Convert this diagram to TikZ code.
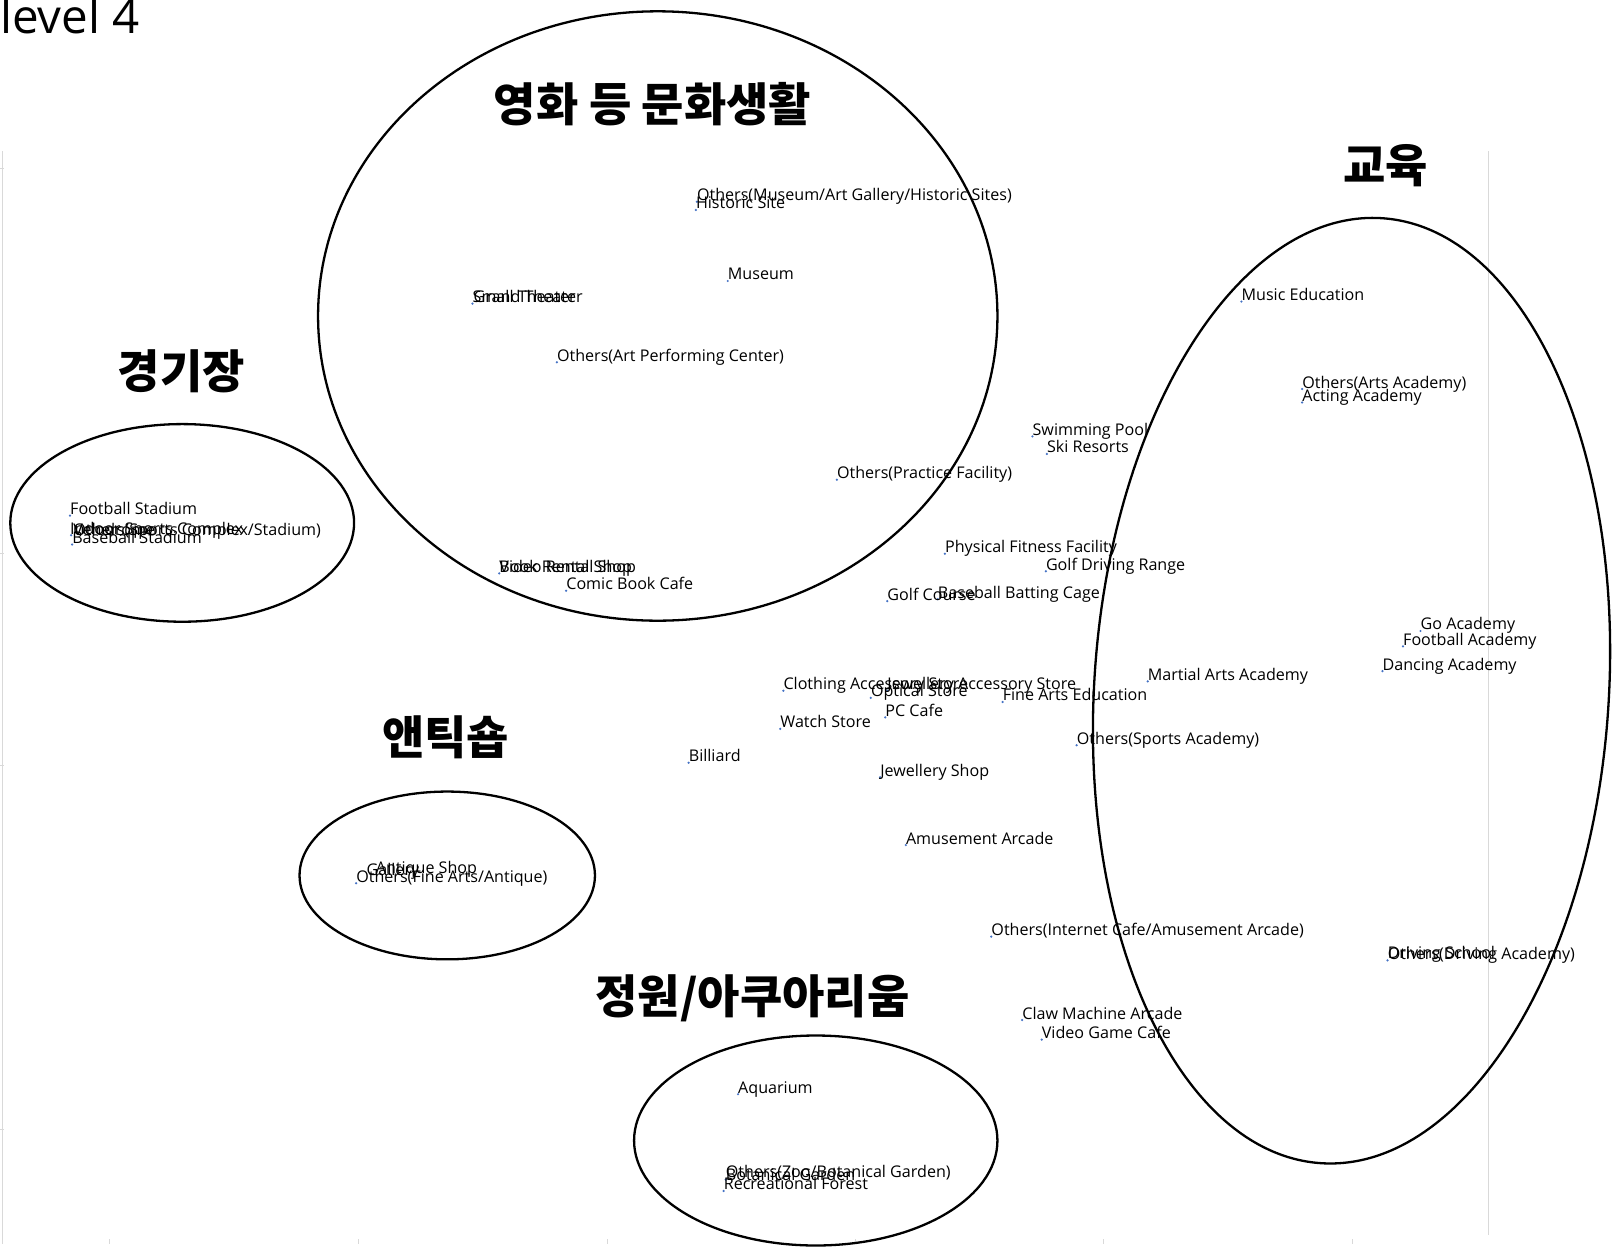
\documentclass[tikz,border=0pt]{standalone}
\usepackage{fontspec}
\setmainfont{Open Sans}
\newfontfamily\kofont{Noto Sans CJK KR}
\usepackage{tikz}
\definecolor{ptblue}{HTML}{4472C4}
\definecolor{axisgray}{HTML}{D9D9D9}

\begin{document}
\begin{tikzpicture}[x=1.0293pt, y=-1.0293pt,
  lbl/.style={anchor=base west, inner sep=0pt, font=\fontsize{16.1}{18}\selectfont},
  dotmark/.style={fill=ptblue},
  grp/.style={line width=2.3pt},
  ttl/.style={inner sep=0pt, font=\kofont\bfseries\fontsize{46}{52}\selectfont},
  axisline/.style={draw=axisgray, line width=0.8pt}]
  \useasboundingbox (0,0) rectangle (1568,1217);

  \draw[axisline] (2,147) -- (2,1209);
  \draw[axisline] (1446,147) -- (1446,1200);
  \draw[axisline] (0,164) -- (4,164) (0,538) -- (4,538) (0,744) -- (4,744) (0,1097) -- (4,1097);
  \draw[axisline] (106,1204) -- (106,1209) (348,1204) -- (348,1209) (590,1204) -- (590,1209)
    (831,1204) -- (831,1209) (1072,1204) -- (1072,1209) (1314,1204) -- (1314,1209);

  \node[anchor=base west, inner sep=0pt, font=\fontsize{47.5}{52}\selectfont] (title) at (0,33) {level 4};

  \draw[grp] (639,307) ellipse [x radius=330, y radius=296];
  \draw[grp, rotate around={-3.67:(1313,671)}] (1313,671) ellipse [x radius=250, y radius=460];
  \draw[grp] (177,508) ellipse [x radius=167, y radius=96];
  \draw[grp] (434.5,850.5) ellipse [x radius=143.5, y radius=81.5];
  \draw[grp] (792.5,1108) ellipse [x radius=176.5, y radius=102];

  \node[ttl] (culture) at (634,101) {영화 등 문화생활};
  \node[ttl] (edu) at (1346,161) {교육};
  \node[ttl] (stadium) at (176,361) {경기장};
  \node[ttl] (antiq) at (433,716) {앤틱숍};
  \node[ttl] (garden) at (731,970) {정원/아쿠아리움};

  \fill[dotmark] (677,196) circle (1.2);
  \fill[dotmark] (676,204) circle (1.2);
  \fill[dotmark] (707,273) circle (1.2);
  \fill[dotmark] (459,295) circle (1.2);
  \fill[dotmark] (541,352) circle (1.2);
  \fill[dotmark] (813,466) circle (1.2);
  \fill[dotmark] (1003,424) circle (1.2);
  \fill[dotmark] (1017,441) circle (1.2);
  \fill[dotmark] (918,538) circle (1.2);
  \fill[dotmark] (1016,555) circle (1.2);
  \fill[dotmark] (862,584) circle (1.2);
  \fill[dotmark] (911,582) circle (1.2);
  \fill[dotmark] (1206,293) circle (1.2);
  \fill[dotmark] (1265,378) circle (1.2);
  \fill[dotmark] (1265,391) circle (1.2);
  \fill[dotmark] (1380,613) circle (1.2);
  \fill[dotmark] (1363,628) circle (1.2);
  \fill[dotmark] (1343,652) circle (1.2);
  \fill[dotmark] (1115,662) circle (1.2);
  \fill[dotmark] (974,682) circle (1.2);
  \fill[dotmark] (1046,724) circle (1.2);
  \fill[dotmark] (761,671) circle (1.2);
  \fill[dotmark] (862,671) circle (1.2);
  \fill[dotmark] (846,678) circle (1.2);
  \fill[dotmark] (860,697) circle (1.2);
  \fill[dotmark] (758,708) circle (1.2);
  \fill[dotmark] (669,741) circle (1.2);
  \fill[dotmark] (855,755) circle (1.2);
  \fill[dotmark] (880,821) circle (1.2);
  \fill[dotmark] (963,910) circle (1.2);
  \fill[dotmark] (993,991) circle (1.2);
  \fill[dotmark] (1012,1010) circle (1.2);
  \fill[dotmark] (1348,933) circle (1.2);
  \fill[dotmark] (717,1063) circle (1.2);
  \fill[dotmark] (705,1146) circle (1.2);
  \fill[dotmark] (703,1157) circle (1.2);
  \fill[dotmark] (346,858) circle (1.2);
  \fill[dotmark] (68,501) circle (1.2);
  \fill[dotmark] (69,520) circle (1.2);
  \fill[dotmark] (70,529) circle (1.2);
  \fill[dotmark] (485,557) circle (1.2);
  \fill[dotmark] (550,574) circle (1.2);

  \node[lbl] (othmuseum) at (677,195) {Others(Museum/Art Gallery/Historic Sites)};
  \node[lbl] (historic) at (676,203) {Historic Site};
  \node[lbl] (museum) at (707,272) {Museum};
  \node[lbl] (smallth) at (459,294) {Small Theater};
  \node[lbl] (grandth) at (460,294) {Grand Theater};
  \node[lbl] (othart) at (541,351) {Others(Art Performing Center)};
  \node[lbl] (othpractice) at (813,465) {Others(Practice Facility)};
  \node[lbl] (swimming) at (1003,423) {Swimming Pool};
  \node[lbl] (ski) at (1017,440) {Ski Resorts};
  \node[lbl] (fitness) at (918,537) {Physical Fitness Facility};
  \node[lbl] (golfrange) at (1016,554) {Golf Driving Range};
  \node[lbl] (golfcourse) at (862,583) {Golf Course};
  \node[lbl] (batting) at (911,581) {Baseball Batting Cage};
  \node[lbl] (music) at (1206,292) {Music Education};
  \node[lbl] (otharts) at (1265,377) {Others(Arts Academy)};
  \node[lbl] (acting) at (1265,390) {Acting Academy};
  \node[lbl] (goacad) at (1380,612) {Go Academy};
  \node[lbl] (footacad) at (1363,627) {Football Academy};
  \node[lbl] (dancing) at (1343,651) {Dancing Academy};
  \node[lbl] (martial) at (1115,661) {Martial Arts Academy};
  \node[lbl] (finearts) at (974,681) {Fine Arts Education};
  \node[lbl] (othsports) at (1046,723) {Others(Sports Academy)};
  \node[lbl] (clothing) at (761,670) {Clothing Accessory Store};
  \node[lbl] (jewacc) at (862,670) {Jewellery Accessory Store};
  \node[lbl] (optical) at (846,677) {Optical Store};
  \node[lbl] (pccafe) at (860,696) {PC Cafe};
  \node[lbl] (watch) at (758,707) {Watch Store};
  \node[lbl] (billiard) at (669,740) {Billiard};
  \node[lbl] (jewshop) at (855,754) {Jewellery Shop};
  \node[lbl] (amusement) at (880,820) {Amusement Arcade};
  \node[lbl] (othinternet) at (963,909) {Others(Internet Cafe/Amusement Arcade)};
  \node[lbl] (claw) at (993,990) {Claw Machine Arcade};
  \node[lbl] (videogame) at (1012,1009) {Video Game Cafe};
  \node[lbl] (othdriving) at (1348,932) {Others(Driving Academy)};
  \node[lbl] (driving) at (1348,931) {Driving School};
  \node[lbl] (aquarium) at (717,1062) {Aquarium};
  \node[lbl] (othzoo) at (705,1144) {Others(Zoo/Botanical Garden)};
  \node[lbl] (botanical) at (705,1147) {Botanical Garden};
  \node[lbl] (forest) at (703,1156) {Recreational Forest};
  \node[lbl] (antique) at (365,849) {Antique Shop};
  \node[lbl] (gallery) at (356,851) {Gallery};
  \node[lbl] (othantique) at (346,857) {Others(Fine Arts/Antique)};
  \node[lbl] (footstad) at (68,500) {Football Stadium};
  \node[lbl] (indoor) at (68,519) {Indoor Sports Complex};
  \node[lbl] (othstad) at (71,520) {Others(Sports Complex/Stadium)};
  \node[lbl] (velodrome) at (71,520) {Velodrome};
  \node[lbl] (basestad) at (70,528) {Baseball Stadium};
  \node[lbl] (videorent) at (485,556) {Video Rental Shop};
  \node[lbl] (bookrent) at (485,556) {Book Rental Shop};
  \node[lbl] (comic) at (550,573) {Comic Book Cafe};
\end{tikzpicture}
\end{document}
